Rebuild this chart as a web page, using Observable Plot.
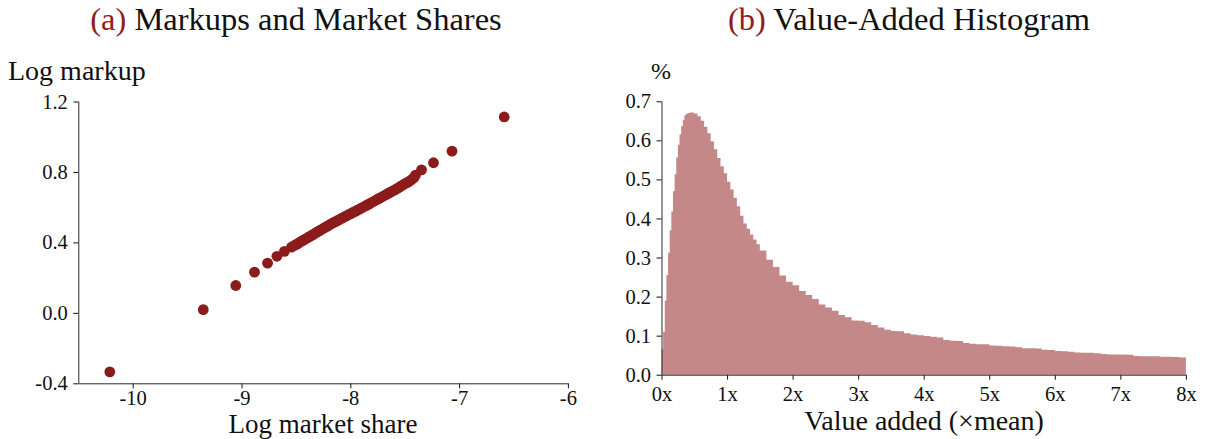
<!DOCTYPE html>
<html>
<head>
<meta charset="utf-8">
<script src="https://cdn.jsdelivr.net/npm/d3@7"></script>
<script src="https://cdn.jsdelivr.net/npm/@observablehq/plot@0.6"></script>
<style>
  html, body { margin: 0; padding: 0; background: #fff; }
  #wrap { position: relative; width: 1206px; height: 439px; overflow: hidden; font-family: "Liberation Serif", serif; color: #111; }
  .lbl { position: absolute; line-height: 0.7; white-space: nowrap; }
  .tag { color: #931d1d; }
  svg { position: absolute; }
</style>
</head>
<body>
<div id="wrap"></div>
<script>
// ---------- Panel (a): markups vs market shares ----------
const logShare = [
  -10.215, -9.356, -9.057, -8.885, -8.765, -8.679, -8.610, -8.545,
  -8.52, -8.50, -8.48, -8.46, -8.44, -8.42, -8.40, -8.38, -8.36, -8.34, -8.32, -8.30,
  -8.28, -8.26, -8.24, -8.22, -8.20, -8.18, -8.16, -8.14, -8.12, -8.10, -8.08, -8.06,
  -8.04, -8.02, -8.00, -7.98, -7.96, -7.94, -7.92, -7.90, -7.88, -7.86, -7.84, -7.82,
  -7.80, -7.78, -7.76, -7.74, -7.72, -7.70, -7.68, -7.66, -7.64, -7.62, -7.60, -7.58,
  -7.56, -7.54, -7.52, -7.50, -7.48, -7.46, -7.44, -7.42,
  -7.405, -7.35, -7.24, -7.07, -6.59
];
const logMarkup = [
  -0.332, 0.021, 0.158, 0.234, 0.285, 0.324, 0.352, 0.376,
  0.385, 0.392, 0.399, 0.407, 0.414, 0.421, 0.428, 0.436, 0.443, 0.450, 0.458, 0.465,
  0.472, 0.479, 0.487, 0.494, 0.501, 0.508, 0.515, 0.521, 0.528, 0.534, 0.541, 0.547,
  0.553, 0.560, 0.566, 0.573, 0.579, 0.586, 0.592, 0.599, 0.605, 0.612, 0.619, 0.625,
  0.632, 0.639, 0.646, 0.653, 0.659, 0.666, 0.673, 0.680, 0.687, 0.693, 0.700, 0.707,
  0.714, 0.722, 0.729, 0.737, 0.744, 0.751, 0.760, 0.770,
  0.785, 0.815, 0.855, 0.921, 1.115
];
const xTicksA = [-10, -9, -8, -7, -6];
const yTicksA = [-0.4, 0.0, 0.4, 0.8, 1.2];
const xDomainA = [-10.5, -6];
const yDomainA = [-0.4, 1.2];

// ---------- Panel (b): value-added histogram ----------
const binStart = [
  0.000, 0.025, 0.050, 0.075, 0.100, 0.125, 0.150, 0.175, 0.200, 0.225,
  0.250, 0.275, 0.300, 0.325, 0.350, 0.375, 0.400, 0.425, 0.450, 0.475,
  0.50, 0.55, 0.60, 0.65, 0.70, 0.75, 0.80, 0.85, 0.90, 0.95,
  1.00, 1.05, 1.10, 1.15, 1.20, 1.25, 1.30, 1.35, 1.40, 1.45,
  1.5, 1.6, 1.7, 1.8, 1.9, 2.0, 2.1, 2.2, 2.3, 2.4,
  2.5, 2.6, 2.7, 2.8, 2.9, 3.0, 3.1, 3.2, 3.3, 3.4,
  3.5, 3.6, 3.7, 3.8, 3.9, 4.0, 4.1, 4.2, 4.3, 4.4,
  4.5, 4.6, 4.7, 4.8, 4.9, 5.0, 5.1, 5.2, 5.3, 5.4,
  5.5, 5.6, 5.7, 5.8, 5.9, 6.0, 6.1, 6.2, 6.3, 6.4,
  6.5, 6.6, 6.7, 6.8, 6.9, 7.0, 7.1, 7.2, 7.3, 7.4,
  7.5, 7.6, 7.7, 7.8, 7.9, 8.0
];
const binPct = [
  0.065, 0.110, 0.190, 0.255, 0.312, 0.370, 0.418, 0.470, 0.513, 0.556,
  0.589, 0.615, 0.636, 0.653, 0.664, 0.668, 0.670, 0.671, 0.672, 0.671,
  0.669, 0.662, 0.650, 0.635, 0.618, 0.598, 0.577, 0.555, 0.534, 0.516,
  0.494, 0.474, 0.453, 0.431, 0.407, 0.387, 0.374, 0.359, 0.346, 0.334,
  0.318, 0.294, 0.276, 0.254, 0.238, 0.229, 0.214, 0.204, 0.194, 0.180,
  0.172, 0.164, 0.153, 0.147, 0.139, 0.138, 0.134, 0.127, 0.121, 0.115,
  0.112, 0.111, 0.106, 0.103, 0.101, 0.099, 0.097, 0.095, 0.089, 0.087,
  0.086, 0.081, 0.079, 0.078, 0.078, 0.075, 0.074, 0.073, 0.072, 0.070,
  0.068, 0.068, 0.067, 0.064, 0.063, 0.061, 0.060, 0.059, 0.057, 0.056,
  0.056, 0.055, 0.053, 0.052, 0.052, 0.052, 0.051, 0.048, 0.047, 0.047,
  0.047, 0.046, 0.046, 0.045, 0.044, 0.044
];
const xTicksB = [0, 1, 2, 3, 4, 5, 6, 7, 8];
const yTicksB = [0.0, 0.1, 0.2, 0.3, 0.4, 0.5, 0.6, 0.7];
const xDomainB = [0, 8];
const yDomainB = [0, 0.7];

// ---------- styles ----------
const dotColor = "#8c1b1b";
const histColor = "#c48888";
const axisColor = "#2b2b2b";
const tickFont = "20.5px";

const wrap = document.getElementById("wrap");
const SVG_TOP = 45;
const LH = 0.7;

function addLabel(html, fs, baseline, opts) {
  const d = document.createElement("div");
  d.className = "lbl";
  d.innerHTML = html;
  d.style.fontSize = fs + "px";
  d.style.top = (baseline - (LH / 2 + 0.3375) * fs) + "px";
  if (opts.center != null) { d.style.left = opts.center + "px"; d.style.transform = "translateX(-50%)"; }
  else d.style.left = opts.left + "px";
  wrap.appendChild(d);
}

// Panel (a)
const pts = logShare.map((x, i) => ({x, y: logMarkup[i]}));
const plotA = Plot.plot({
  width: 603, height: 394,
  marginLeft: 78.3, marginRight: 35.1, marginTop: 56.5, marginBottom: 55.7,
  style: {fontFamily: "'Liberation Serif', serif", fontSize: tickFont, color: "#111", background: "transparent", overflow: "visible"},
  x: {domain: xDomainA, ticks: xTicksA, tickSize: 5, tickPadding: 2, tickFormat: d => String(d), label: null},
  y: {domain: yDomainA, ticks: yTicksA, tickSize: 5, tickPadding: 6, tickFormat: d => d.toFixed(1), label: null},
  marks: [
    Plot.dot(pts, {x: "x", y: "y", r: 5.4, fill: dotColor, stroke: "none"}),
    Plot.ruleX([xDomainA[0]], {stroke: axisColor, strokeWidth: 1}),
    Plot.ruleY([yDomainA[0]], {stroke: axisColor, strokeWidth: 1})
  ]
});
plotA.style.left = "0px";
plotA.style.top = SVG_TOP + "px";
wrap.appendChild(plotA);

// Panel (b)
const hist = binStart.map((x, i) => ({x, h: binPct[i]}));
const plotB = Plot.plot({
  width: 603, height: 394,
  marginLeft: 58.5, marginRight: 20.1, marginTop: 56.3, marginBottom: 64.3,
  style: {fontFamily: "'Liberation Serif', serif", fontSize: tickFont, color: "#111", background: "transparent", overflow: "visible"},
  x: {domain: xDomainB, ticks: xTicksB, tickSize: 5, tickPadding: 6, tickFormat: d => d + "x", label: null},
  y: {domain: yDomainB, ticks: yTicksB, tickSize: 5, tickPadding: 6, tickFormat: d => d.toFixed(1), label: null},
  marks: [
    Plot.areaY(hist, {x: "x", y: "h", curve: "step-after", fill: histColor}),
    Plot.ruleX([xDomainB[0]], {stroke: axisColor, strokeWidth: 1}),
    Plot.ruleY([yDomainB[0]], {stroke: axisColor, strokeWidth: 1})
  ]
});
plotB.style.left = "603px";
plotB.style.top = SVG_TOP + "px";
wrap.appendChild(plotB);

// Titles and axis labels
addLabel('<span class="tag">(a)</span> Markups and Market Shares', 32.5, 30, {center: 296});
addLabel('<span class="tag">(b)</span> Value-Added Histogram', 32.5, 30, {center: 909});
addLabel('Log markup', 28, 80, {left: 8});
addLabel('%', 24, 79, {left: 651});
addLabel('Log market share', 27, 433.5, {center: 323});
addLabel('Value added (×mean)', 28, 430, {center: 924});
</script>
</body>
</html>
